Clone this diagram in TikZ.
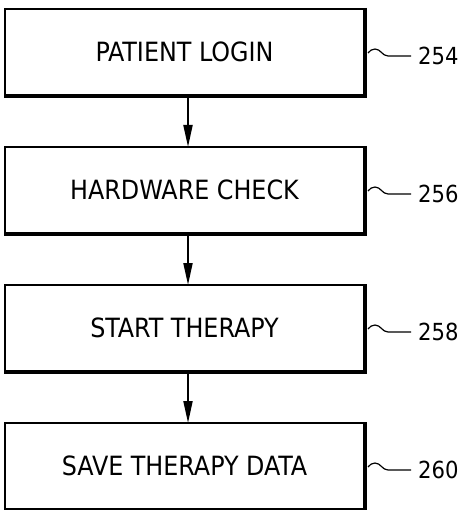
\documentclass[tikz,border=0pt]{standalone}
\usepackage{fontspec}
\setmainfont{DejaVu Sans Condensed}
\usetikzlibrary{positioning,arrows.meta}

\begin{document}
\begin{tikzpicture}[
    x=1pt, y=1pt,
    stepbox/.style={draw, line width=2pt, outer sep=0pt, inner sep=0pt,
        minimum width=359pt, minimum height=86pt,
        font=\fontsize{26.5pt}{30pt}\selectfont},
    tag/.style={inner sep=0pt, anchor=west, font=\fontsize{23.5pt}{28pt}\selectfont},
    flow/.style={line width=2pt, -{Triangle[length=22pt,width=9pt]}},
    lead/.style={line width=1.2pt}
]

    % Fix the page to the size of the reference
    \useasboundingbox (0,0) rectangle (462,-510);

    % The four steps, one below the other
    \node[stepbox] (login) at (184.5,-52) {PATIENT LOGIN};
    \node[stepbox, below=52pt of login] (check) {HARDWARE CHECK};
    \node[stepbox, below=52pt of check] (start) {START THERAPY};
    \node[stepbox, below=52pt of start] (save) {SAVE THERAPY DATA};

    % Heavier right and bottom edges of each box
    \foreach \b in {login,check,start,save} {
        \draw[line width=4pt] ([xshift=1pt,yshift=1pt]\b.north east)
            -- ([xshift=1pt,yshift=-1pt]\b.south east)
            -- ([xshift=-1pt,yshift=-1pt]\b.south west);
    }

    % Arrows between the steps
    \draw[flow] ([xshift=3.5pt]login.south) -- ([xshift=3.5pt]check.north);
    \draw[flow] ([xshift=3.5pt]check.south) -- ([xshift=3.5pt]start.north);
    \draw[flow] ([xshift=3.5pt]start.south) -- ([xshift=3.5pt]save.north);

    % Reference numerals
    \node[tag] (n254) at ([xshift=54pt,yshift=-4pt]login.east) {254};
    \node[tag] (n256) at ([xshift=54pt,yshift=-4pt]check.east) {256};
    \node[tag] (n258) at ([xshift=54pt,yshift=-4pt]start.east) {258};
    \node[tag] (n260) at ([xshift=54pt,yshift=-4pt]save.east) {260};

    % Wavy leaders from the boxes to the numerals
    \draw[lead] ([xshift=4pt,yshift=-1pt]login.east) to[out=50,in=180] ++(7,4)
        to[out=0,in=180] ++(13,-7) -- ([xshift=-7pt]n254.west);
    \draw[lead] ([xshift=4pt,yshift=-1pt]check.east) to[out=50,in=180] ++(7,4)
        to[out=0,in=180] ++(13,-7) -- ([xshift=-7pt]n256.west);
    \draw[lead] ([xshift=4pt,yshift=-1pt]start.east) to[out=50,in=180] ++(7,4)
        to[out=0,in=180] ++(13,-7) -- ([xshift=-7pt]n258.west);
    \draw[lead] ([xshift=4pt,yshift=-1pt]save.east) to[out=50,in=180] ++(7,4)
        to[out=0,in=180] ++(13,-7) -- ([xshift=-7pt]n260.west);

\end{tikzpicture}
\end{document}
